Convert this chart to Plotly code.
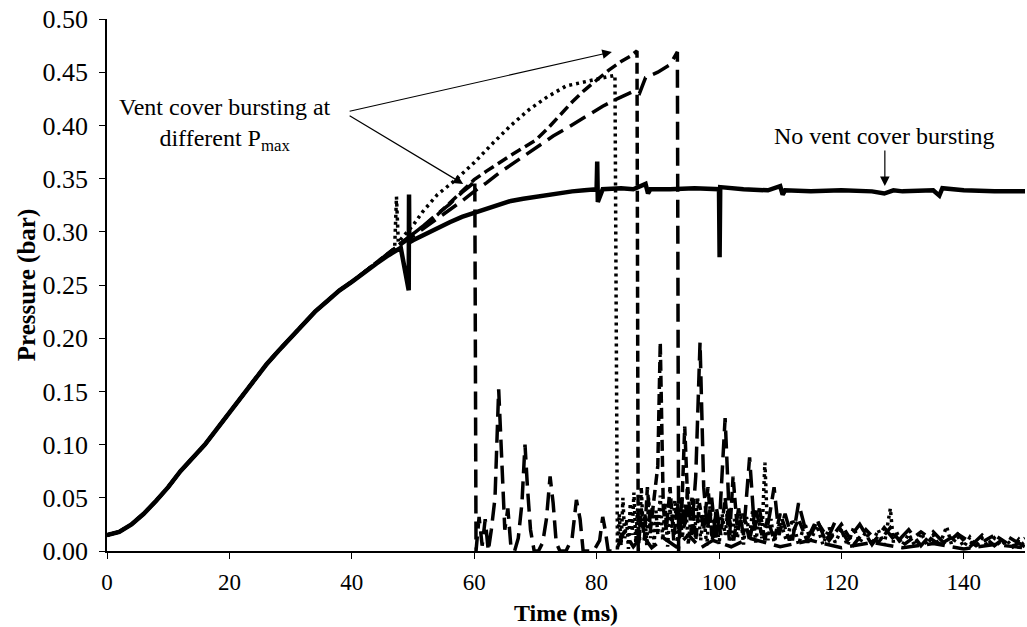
import plotly.graph_objects as go

# ---------------- data ----------------
t_rise = [0, 2, 4, 6, 8, 10, 12, 14, 16, 18, 20, 22, 24, 26, 28, 30, 32, 34, 36, 38, 40, 42, 44]
p_rise = [0.015, 0.018, 0.025, 0.035, 0.047, 0.060, 0.075, 0.088, 0.100, 0.115, 0.130, 0.145,
          0.160, 0.175, 0.188, 0.200, 0.212, 0.225, 0.235, 0.245, 0.253, 0.262, 0.270]

# no vent cover bursting (solid)
t_solid_tail = [46, 48, 49.3, 49.35, 49.4, 50, 52, 54, 56, 58,
                60, 62, 64, 66, 68, 70, 72, 74, 76, 78,
                80.0, 80.1, 80.2, 81, 84, 86, 88, 88.4, 88.8, 92,
                96, 100.0, 100.1, 100.2, 104, 108, 110, 110.4, 110.8, 115,
                120, 125, 127, 128.5, 130, 135, 136, 136.5, 140, 145,
                150]
p_solid_tail = [0.278, 0.285, 0.245, 0.335, 0.290, 0.292, 0.298, 0.304, 0.309, 0.314,
                0.318, 0.322, 0.326, 0.329, 0.331, 0.333, 0.335, 0.337, 0.338, 0.339,
                0.340, 0.366, 0.328, 0.340, 0.341, 0.340, 0.345, 0.336, 0.340, 0.340,
                0.341, 0.340, 0.276, 0.342, 0.340, 0.339, 0.343, 0.335, 0.339, 0.338,
                0.339, 0.338, 0.336, 0.339, 0.338, 0.339, 0.334, 0.341, 0.339, 0.338,
                0.338]

# bursting at ~83 ms (dotted)
t_dot_tail = [46, 47, 47.3, 47.6, 48, 50, 51.6, 54, 57, 60,
              63, 66, 69, 72, 75, 78, 80, 82, 83, 83.4,
              83.7, 84.0, 84.3, 84.6, 84.9, 85.2, 85.5, 85.8, 86.1, 86.4,
              86.7, 87.0, 87.3, 87.6, 87.9, 88.2, 88.5, 88.8, 89.1, 89.4,
              89.7, 90.0, 90.4, 90.8, 91.2, 91.6, 92.0, 92.4, 92.8, 93.2,
              93.6, 94.0, 94.5, 95.0, 95.5, 96.0, 96.5, 97.0, 97.5, 98.0,
              98.5, 99.0, 99.5, 100, 100.5, 101, 101.5, 102, 102.5, 103,
              103.5, 104, 104.5, 105, 105.5, 106, 106.5, 107, 107.5, 108,
              108.5, 109, 110, 111, 112, 113, 114, 115, 116, 117,
              118, 119, 120, 121, 122, 123, 124, 125, 126, 127,
              128, 128.5, 129, 130, 131, 132, 133, 134, 135, 136,
              137.2, 138, 139, 140, 141, 142, 143, 144, 145, 146,
              147, 148, 149, 150]
p_dot_tail = [0.279, 0.284, 0.333, 0.290, 0.293, 0.306, 0.319, 0.335, 0.349, 0.365,
              0.383, 0.400, 0.415, 0.427, 0.437, 0.441, 0.444, 0.446, 0.447, 0.0,
              0.035, 0.005, 0.050, 0.012, 0.030, 0.002, 0.045, 0.015, 0.055, 0.008,
              0.040, 0.010, 0.060, 0.020, 0.035, 0.005, 0.050, 0.012, 0.042, 0.006,
              0.038, 0.015, 0.052, 0.010, 0.045, 0.004, 0.040, 0.018, 0.048, 0.008,
              0.036, 0.012, 0.045, 0.006, 0.040, 0.015, 0.050, 0.010, 0.035, 0.005,
              0.042, 0.012, 0.038, 0.006, 0.035, 0.015, 0.040, 0.008, 0.030, 0.012,
              0.036, 0.006, 0.032, 0.014, 0.038, 0.008, 0.030, 0.012, 0.083, 0.010,
              0.030, 0.008, 0.028, 0.010, 0.030, 0.006, 0.026, 0.010, 0.024, 0.006,
              0.022, 0.008, 0.020, 0.005, 0.022, 0.008, 0.018, 0.006, 0.020, 0.006,
              0.040, 0.008, 0.018, 0.006, 0.016, 0.005, 0.017, 0.006, 0.015, 0.005,
              0.023, 0.006, 0.014, 0.004, 0.013, 0.005, 0.012, 0.004, 0.012, 0.005,
              0.010, 0.004, 0.011, 0.004]

# bursting at ~60 ms (long dash)
t_b60_tail = [46, 48, 50, 52, 54, 56, 58, 59.5, 60.1, 60.3,
              60.8, 61.3, 61.8, 62.3, 62.8, 63.4, 64, 64.5, 65, 65.5,
              66, 66.6, 67.2, 67.8, 68.3, 68.7, 69.2, 69.8, 70.5, 71.2,
              71.8, 72.4, 72.9, 73.4, 74, 75, 76, 76.7, 77.3, 77.8,
              78.5, 79.5, 80.5, 81, 81.4, 81.9, 82.5, 83.5, 84.5, 86,
              87.5, 89, 91, 93, 95, 97, 99, 102, 105, 110,
              115, 120, 125, 130, 135, 140, 145, 150]
p_b60_tail = [0.280, 0.289, 0.298, 0.307, 0.317, 0.326, 0.337, 0.344, 0.349, 0.0,
              0.032, 0.005, 0.030, 0.0, 0.020, 0.050, 0.152, 0.090, 0.020, 0.040,
              0.004, 0.0, 0.012, 0.045, 0.100, 0.060, 0.020, 0.0, 0.0, 0.008,
              0.030, 0.070, 0.045, 0.008, 0.0, 0.0, 0.012, 0.048, 0.030, 0.0,
              0.0, 0.0, 0.010, 0.032, 0.020, 0.0, 0.0, 0.005, 0.018, 0.004,
              0.015, 0.003, 0.012, 0.004, 0.015, 0.003, 0.010, 0.004, 0.012, 0.004,
              0.010, 0.003, 0.008, 0.003, 0.007, 0.002, 0.006, 0.003]

# bursting at ~86 ms (dash)
t_b86_tail = [46, 48, 50, 52, 54, 56, 58, 60, 62, 64,
              66, 68, 70, 72, 74, 76, 78, 80, 82, 84,
              85.5, 86.6, 86.8, 87.3, 87.8, 88.3, 88.8, 89.4, 90, 90.4,
              90.9, 91.4, 92, 92.6, 93.2, 93.8, 94.4, 95, 95.6, 96.2,
              96.8, 97.5, 98.2, 98.9, 99.6, 100.3, 101, 101.7, 102.3, 103,
              104, 105, 106, 107, 108, 109, 110, 111.5, 113, 114.5,
              116, 118, 120, 122, 124, 126, 128, 130, 133, 136,
              139, 142, 145, 148, 150]
p_b86_tail = [0.279, 0.288, 0.297, 0.306, 0.316, 0.327, 0.338, 0.349, 0.357, 0.365,
              0.372, 0.379, 0.386, 0.397, 0.410, 0.422, 0.433, 0.443, 0.452, 0.460,
              0.465, 0.470, 0.0, 0.040, 0.010, 0.060, 0.020, 0.050, 0.080, 0.196,
              0.040, 0.020, 0.060, 0.010, 0.045, 0.020, 0.117, 0.030, 0.050, 0.010,
              0.045, 0.020, 0.060, 0.010, 0.040, 0.015, 0.050, 0.010, 0.070, 0.020,
              0.035, 0.010, 0.040, 0.015, 0.030, 0.010, 0.035, 0.010, 0.030, 0.008,
              0.028, 0.010, 0.025, 0.006, 0.020, 0.008, 0.022, 0.005, 0.018, 0.006,
              0.016, 0.005, 0.015, 0.004, 0.012]

# bursting at ~93 ms (long dash)
t_b93_tail = [46, 48, 50, 52, 55, 58, 60, 62, 64, 66,
              68, 70, 72.9, 75, 77, 79.4, 81, 83, 84.5, 86,
              87, 88, 90, 92, 93.2, 93.4, 93.9, 94.4, 94.9, 95.5,
              96.2, 96.9, 97.5, 98.1, 98.8, 99.5, 100.2, 101, 101.7, 102.4,
              103.2, 104, 105, 105.8, 106.6, 107.5, 108.3, 109, 109.8, 110.8,
              112, 113, 114.5, 116, 117.5, 119, 121, 123, 125, 127,
              129, 131, 133, 135, 137, 139, 141, 143, 145, 147,
              150]
p_b93_tail = [0.279, 0.288, 0.296, 0.304, 0.316, 0.329, 0.338, 0.346, 0.355, 0.363,
              0.371, 0.379, 0.390, 0.397, 0.404, 0.412, 0.418, 0.424, 0.428, 0.432,
              0.430, 0.445, 0.450, 0.457, 0.469, 0.0, 0.050, 0.020, 0.060, 0.015,
              0.070, 0.196, 0.060, 0.020, 0.050, 0.010, 0.040, 0.125, 0.030, 0.010,
              0.040, 0.015, 0.088, 0.020, 0.040, 0.010, 0.035, 0.060, 0.015, 0.035,
              0.010, 0.045, 0.012, 0.030, 0.008, 0.028, 0.010, 0.025, 0.006, 0.022,
              0.008, 0.020, 0.005, 0.018, 0.006, 0.016, 0.004, 0.015, 0.005, 0.014,
              0.004]

x_ticks = [0, 20, 40, 60, 80, 100, 120, 140]
y_ticks = [0.00, 0.05, 0.10, 0.15, 0.20, 0.25, 0.30, 0.35, 0.40, 0.45, 0.50]

label_burst = "Vent cover bursting at<br>different P<sub>max</sub>"
label_noburst = "No vent cover bursting"

# ---------------- figure ----------------
FONT = "Liberation Serif, Times New Roman, serif"
series = [
    (t_b60_tail, p_b60_tail, "18px,8px", 3.5),
    (t_b93_tail, p_b93_tail, "18px,8px", 3.5),
    (t_b86_tail, p_b86_tail, "11px,5px", 3.5),
    (t_dot_tail, p_dot_tail, "3px,4px", 3.5),
    (t_solid_tail, p_solid_tail, "solid", 4.5),
]

fig = go.Figure()
for tt, pp, dash, w in series:
    fig.add_trace(go.Scatter(
        x=t_rise + tt, y=p_rise + pp, mode="lines",
        line=dict(color="black", width=w, dash=dash),
        showlegend=False, hoverinfo="skip"))

fig.update_layout(
    width=1027, height=627,
    margin=dict(l=107, r=2, t=19, b=76),
    paper_bgcolor="white", plot_bgcolor="white",
    font=dict(family=FONT, color="black", size=24),
    xaxis=dict(range=[0, 150], tickvals=x_ticks, showgrid=False, zeroline=False,
               showline=True, linecolor="black", linewidth=1.5,
               ticks="outside", ticklen=6, tickwidth=1.2, tickcolor="black",
               ticklabelstandoff=4,
               tickfont=dict(family=FONT, size=23),
               title=dict(text="Time (ms)", font=dict(family=FONT, size=24, weight="bold"), standoff=10)),
    yaxis=dict(range=[0, 0.5], tickvals=y_ticks, tickformat=".2f", showgrid=False, zeroline=False,
               showline=True, linecolor="black", linewidth=1.5,
               ticks="outside", ticklen=6, tickwidth=1.2, tickcolor="black",
               ticklabelstandoff=6,
               tickfont=dict(family=FONT, size=26),
               title=dict(text="Pressure (bar)", font=dict(family=FONT, size=25, weight="bold"), standoff=0)),
)

fig.add_annotation(x=19.2, y=0.401, xref="x", yref="y", text=label_burst, showarrow=False,
                   font=dict(family=FONT, size=24), align="center")
fig.add_annotation(x=82.5, y=0.469, xref="x", yref="y", ax=39.4, ay=0.413, axref="x", ayref="y",
                   text="", showarrow=True, arrowhead=2, arrowsize=1.6, arrowwidth=1.2, arrowcolor="black")
fig.add_annotation(x=58.2, y=0.345, xref="x", yref="y", ax=39.4, ay=0.41, axref="x", ayref="y",
                   text="", showarrow=True, arrowhead=2, arrowsize=1.6, arrowwidth=1.2, arrowcolor="black")
fig.add_annotation(x=127.1, y=0.343, xref="x", yref="y", ax=127.1, ay=0.390, axref="x", ayref="y",
                   text=label_noburst, showarrow=True, arrowhead=2, arrowsize=1.6, arrowwidth=1.2,
                   arrowcolor="black", font=dict(family=FONT, size=24))

fig.write_html("out.html")
